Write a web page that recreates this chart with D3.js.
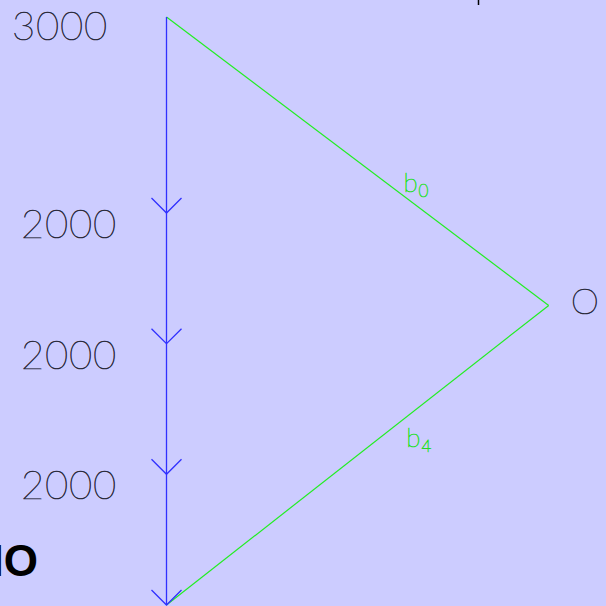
<!DOCTYPE html>
<html><head><meta charset="utf-8">
<script src="https://cdn.jsdelivr.net/npm/d3@7"></script>
<style>html,body{margin:0;padding:0;background:#ccccff;overflow:hidden}</style>
</head><body>
<svg id="c" width="606" height="606"></svg>
<script>
// Force polygon data
const loads = [3000, 2000, 2000, 2000];
const loadLabels = ["3000", "2000", "2000", "2000"];
const pole = [5850, 4415];        // pole position (horizontal, vertical) in load units
const poleLabel = "O";
const rayLabels = [{base: "b", sub: "0"}, {base: "b", sub: "4"}];
const titleText = "IO";

const total = d3.sum(loads);
const cum = [0];
loads.forEach(v => cum.push(cum[cum.length - 1] + v));

const y = d3.scaleLinear().domain([0, total]).range([17, 605]);
const x = d3.scaleLinear().domain([0, total]).range([166.5, 166.5 + 588]);

const svg = d3.select("#c");
svg.append("rect").attr("width", 606).attr("height", 606).attr("fill", "#ccccff");

// top tick
svg.append("line").attr("x1", 478.5).attr("x2", 478.5).attr("y1", 0).attr("y2", 5)
  .attr("stroke", "#000").attr("stroke-width", 1.5);

// rays (first and last)
const P = [x(pole[0]), y(pole[1])];
const rays = [[x(0), y(0)], [x(0), y(total)]];
rays.forEach(r => {
  svg.append("line").attr("x1", r[0]).attr("y1", r[1]).attr("x2", P[0]).attr("y2", P[1])
    .attr("stroke", "#22ee22").attr("stroke-width", 1.2);
});

// load line
svg.append("line").attr("x1", x(0)).attr("x2", x(0)).attr("y1", y(0)).attr("y2", y(total))
  .attr("stroke", "#3030ff").attr("stroke-width", 1.3);

// arrowheads at end of each load
cum.slice(1).forEach(c => {
  const ty = y(c);
  svg.append("path")
    .attr("d", `M${x(0) - 15},${ty - 15}L${x(0)},${ty}L${x(0) + 15},${ty - 15}`)
    .attr("fill", "none").attr("stroke", "#3030ff").attr("stroke-width", 1.3);
});

// load labels
const numFont = "'DejaVu Sans ExtraLight', 'Lato', 'DejaVu Sans', sans-serif";
const numColor = "#2a2a3a";
function thinText(sel, color, sw) {
  return sel.attr("font-family", numFont).attr("font-weight", 200)
    .attr("fill", color).attr("stroke", color).attr("stroke-width", sw);
}
loads.forEach((v, i) => {
  thinText(svg.append("text")
    .attr("x", i === 0 ? 108 : 117)
    .attr("y", y(cum[i]) + (i === 0 ? 23 : 25))
    .attr("text-anchor", "end")
    .attr("letter-spacing", 0.8)
    .attr("font-size", 40), numColor, 0.6)
    .text(loadLabels[i]);
});

// pole label
thinText(svg.append("text").attr("x", P[0] + 22).attr("y", P[1] + 9)
  .attr("font-size", 36), numColor, 0.6).text(poleLabel);

// ray labels
function rayLabel(lbl, px, py) {
  const t = thinText(svg.append("text").attr("x", px).attr("y", py)
    .attr("font-size", 26), "#22e022", 0.7);
  t.append("tspan").text(lbl.base);
  t.append("tspan").attr("dx", 1).attr("dy", 5).attr("font-size", 17).text(lbl.sub);
}
// positions along rays
const t0 = 0.625, t4 = 0.63;
rayLabel(rayLabels[0], rays[0][0] + (P[0] - rays[0][0]) * t0 - 2, rays[0][1] + (P[1] - rays[0][1]) * t0 - 5);
rayLabel(rayLabels[1], rays[1][0] + (P[0] - rays[1][0]) * t4 - 1, rays[1][1] + (P[1] - rays[1][1]) * t4 + 31);

// title fragment
svg.append("text").attr("x", 38).attr("y", 576).attr("text-anchor", "end")
  .attr("font-family", "'Liberation Sans', Arial, sans-serif").attr("font-weight", "bold")
  .attr("font-size", 44).attr("fill", "#000").text(titleText);
</script>
</body></html>
